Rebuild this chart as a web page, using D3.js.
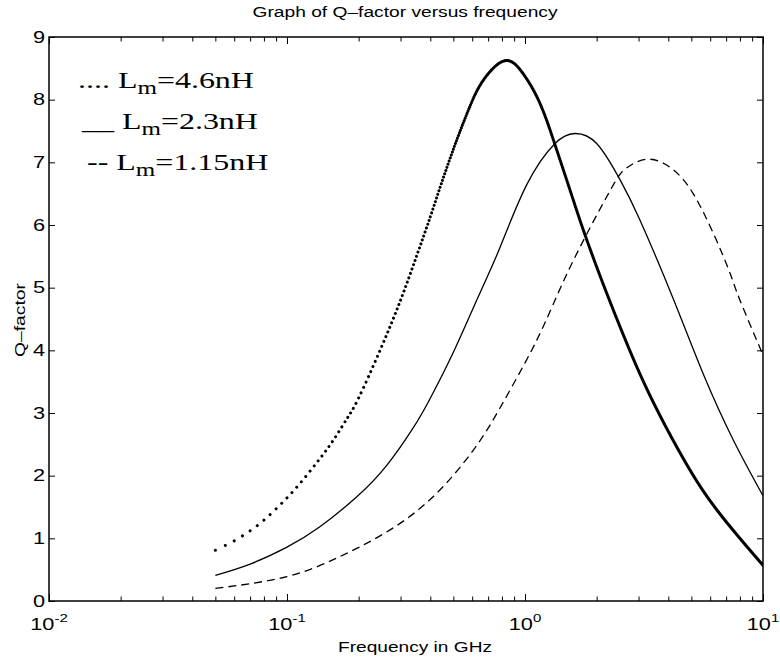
<!DOCTYPE html>
<html>
<head>
<meta charset="utf-8">
<script src="https://cdn.jsdelivr.net/npm/d3@7"></script>
<style>
  body { margin: 0; background: #fff; }
  svg { display: block; }
</style>
</head>
<body>
<svg id="chart" width="780" height="660"></svg>
<script>
// Q-factor readings (frequency in GHz) for three inductor values
const freqA = [0.05, 0.06, 0.07, 0.08, 0.095, 0.113, 0.138, 0.16, 0.18, 0.2, 0.246, 0.3, 0.35, 0.4, 0.447, 0.516, 0.588, 0.668, 0.82, 0.98, 1.156, 1.337, 1.545, 1.758, 2.1, 2.6, 3.35, 4.63, 6.38, 10];
const qA    = [0.81, 0.96, 1.12, 1.29, 1.56, 1.87, 2.28, 2.62, 2.93, 3.24, 4.0, 4.8, 5.5, 6.13, 6.68, 7.35, 7.9, 8.31, 8.62, 8.42, 7.94, 7.28, 6.56, 5.92, 5.12, 4.23, 3.28, 2.27, 1.46, 0.57];

const freqB = [0.05, 0.07, 0.1, 0.137, 0.196, 0.262, 0.34, 0.398, 0.5, 0.63, 0.785, 1.016, 1.337, 1.62, 2.0, 2.51, 3.04, 4.2, 5.6, 7.5, 10];
const qB    = [0.41, 0.59, 0.86, 1.18, 1.66, 2.16, 2.77, 3.22, 3.97, 4.82, 5.64, 6.64, 7.3, 7.46, 7.3, 6.72, 6.08, 4.82, 3.63, 2.57, 1.68];

const freqC = [0.05, 0.1, 0.167, 0.262, 0.41, 0.61, 0.785, 1.0, 1.2, 1.45, 1.82, 2.35, 2.67, 3.3, 4.2, 5.09, 6.18, 7.27, 8.0, 9.66, 10];
const qC    = [0.2, 0.39, 0.71, 1.1, 1.66, 2.42, 3.08, 3.8, 4.4, 5.1, 5.86, 6.64, 6.91, 7.05, 6.88, 6.5, 5.87, 5.23, 4.8, 4.06, 3.92];

// Axis ticks
const yTicks = [0, 1, 2, 3, 4, 5, 6, 7, 8, 9];
const xDecades = [0.01, 0.1, 1, 10];
const xExponents = ["-2", "-1", "0", "1"];

// Legend entries
const legendKeys = ["....", "__", "--"];
const legendValues = ["=4.6nH", "=2.3nH", "=1.15nH"];

const titleText = "Graph of Q\u2013factor versus frequency";
const xLabelText = "Frequency in GHz";
const yLabelText = "Q\u2013factor";

// frequency sweep step of the 4.6nH run, drawn one dot per sample
const SWEEP_STEP = 0.005;

const svg = d3.select("#chart");
const W = 780, H = 660;
const plot = { left: 49, right: 763, top: 37, bottom: 601 };

const x = d3.scaleLog().domain([0.01, 10]).range([plot.left, plot.right]);
const y = d3.scaleLinear().domain([0, 9]).range([plot.bottom, plot.top]);

const SANS = "'Liberation Sans', Arial, Helvetica, sans-serif";
const SERIF = "'Liberation Serif', 'Times New Roman', serif";
const SX = 1.36; // wide lettering used throughout the figure

svg.append("rect").attr("width", W).attr("height", H).attr("fill", "#fff");

svg.append("defs").append("clipPath").attr("id", "plotClip")
  .append("rect")
  .attr("x", plot.left).attr("y", plot.top)
  .attr("width", plot.right - plot.left).attr("height", plot.bottom - plot.top);

// ---- ticks (inward, on all four sides) ----
const minorTicks = [];
xDecades.slice(0, -1).forEach(d => { for (let k = 2; k <= 9; k++) minorTicks.push(d * k); });

function styleAxis(g) {
  g.select(".domain").remove();
  g.selectAll(".tick line").attr("stroke", "#000").attr("stroke-width", 1);
}

svg.append("g").attr("transform", `translate(0,${plot.bottom})`)
  .call(d3.axisBottom(x).tickValues(xDecades).tickSize(-7).tickFormat(""))
  .call(styleAxis);
svg.append("g").attr("transform", `translate(0,${plot.bottom})`)
  .call(d3.axisBottom(x).tickValues(minorTicks).tickSize(-4.5).tickFormat(""))
  .call(styleAxis);
svg.append("g").attr("transform", `translate(0,${plot.top})`)
  .call(d3.axisTop(x).tickValues(xDecades).tickSize(-7).tickFormat(""))
  .call(styleAxis);
svg.append("g").attr("transform", `translate(0,${plot.top})`)
  .call(d3.axisTop(x).tickValues(minorTicks).tickSize(-4.5).tickFormat(""))
  .call(styleAxis);
svg.append("g").attr("transform", `translate(${plot.left},0)`)
  .call(d3.axisLeft(y).tickValues(yTicks).tickSize(-6).tickFormat(""))
  .call(styleAxis);
svg.append("g").attr("transform", `translate(${plot.right},0)`)
  .call(d3.axisRight(y).tickValues(yTicks).tickSize(-6).tickFormat(""))
  .call(styleAxis);

// ---- frame ----
svg.append("rect")
  .attr("x", plot.left).attr("y", plot.top)
  .attr("width", plot.right - plot.left).attr("height", plot.bottom - plot.top)
  .attr("fill", "none").attr("stroke", "#000").attr("stroke-width", 1.5);

// ---- tick labels ----
yTicks.forEach(v => {
  svg.append("g")
    .attr("transform", `translate(${plot.left - 4},${y(v)}) scale(${SX},1)`)
    .append("text")
    .attr("text-anchor", "end").attr("dy", "0.36em")
    .attr("font-family", SANS).attr("font-size", 16).attr("fill", "#000")
    .text(v);
});

xDecades.forEach((d, i) => {
  const t = svg.append("g")
    .attr("transform", `translate(${x(d)},630) scale(${SX},1)`)
    .append("text")
    .attr("text-anchor", "middle")
    .attr("font-family", SANS).attr("font-size", 16).attr("fill", "#000");
  t.append("tspan").text("10");
  t.append("tspan").attr("font-size", 11).attr("dy", -8).text(xExponents[i]);
});

// ---- titles ----
svg.append("text")
  .attr("x", 405).attr("y", 17)
  .attr("text-anchor", "middle")
  .attr("font-family", SANS).attr("font-size", 14).attr("fill", "#000")
  .attr("textLength", 305).attr("lengthAdjust", "spacingAndGlyphs")
  .text(titleText);

svg.append("text")
  .attr("x", 415).attr("y", 652)
  .attr("text-anchor", "middle")
  .attr("font-family", SANS).attr("font-size", 14).attr("fill", "#000")
  .attr("textLength", 154).attr("lengthAdjust", "spacingAndGlyphs")
  .text(xLabelText);

svg.append("g")
  .attr("transform", "translate(25,320) rotate(-90)")
  .append("text")
  .attr("text-anchor", "middle")
  .attr("font-family", SANS).attr("font-size", 14).attr("fill", "#000")
  .attr("textLength", 74).attr("lengthAdjust", "spacingAndGlyphs")
  .text(yLabelText);

// ---- curves ----
const line = d3.line()
  .x(d => x(d[0]))
  .y(d => y(d[1]))
  .curve(d3.curveNatural);

const curves = svg.append("g").attr("clip-path", "url(#plotClip)");

// 2.3nH: thin solid
curves.append("path")
  .attr("d", line(d3.zip(freqB, qB)))
  .attr("fill", "none").attr("stroke", "#000").attr("stroke-width", 1.3);

// 1.15nH: dashed
curves.append("path")
  .attr("d", line(d3.zip(freqC, qC)))
  .attr("fill", "none").attr("stroke", "#000").attr("stroke-width", 1.3)
  .attr("stroke-dasharray", "8,5");

// 4.6nH: one dot per sweep sample (samples bunch up into a solid line at high frequency)
const pathA = curves.append("path")
  .attr("d", line(d3.zip(freqA, qA)))
  .attr("fill", "none").attr("stroke", "#000").attr("stroke-width", 3)
  .attr("stroke-linecap", "round");

(function dotPattern() {
  const node = pathA.node();
  const total = node.getTotalLength();
  const N = 4000;
  const lens = [], xs = [];
  for (let i = 0; i <= N; i++) {
    const l = total * i / N;
    lens.push(l);
    xs.push(node.getPointAtLength(l).x);
  }
  // running max keeps the lookup monotone
  for (let i = 1; i <= N; i++) xs[i] = Math.max(xs[i], xs[i - 1]);
  const bis = d3.bisector(v => v).left;
  function lenAtX(px) {
    const j = bis(xs, px);
    if (j <= 0) return 0;
    if (j > N) return total;
    const t = (px - xs[j - 1]) / (xs[j] - xs[j - 1] || 1);
    return lens[j - 1] + t * (lens[j] - lens[j - 1]);
  }
  const f0 = freqA[0], f1 = freqA[freqA.length - 1];
  const marks = [];
  for (let k = 0; ; k++) {
    const f = f0 + k * SWEEP_STEP;
    if (f > f1 + 1e-9) break;
    marks.push(lenAtX(x(f)));
  }
  const dash = [];
  for (let k = 0; k < marks.length - 1; k++) {
    const gap = Math.max(marks[k + 1] - marks[k] - 0.01, 0.001);
    dash.push(0.01, gap);
  }
  dash.push(0.01, total + 10);
  pathA.attr("stroke-dasharray", dash.map(v => v.toFixed(3)).join(","));
})();

// ---- legend ----
const legendPos = [[78, 88], [82, 129], [87, 170]];
legendKeys.forEach((k, i) => {
  const t = svg.append("g")
    .attr("transform", `translate(${legendPos[i][0]},${legendPos[i][1]}) scale(1.39,1)`)
    .append("text")
    .attr("font-family", SERIF).attr("font-size", 23).attr("fill", "#000")
    .attr("xml:space", "preserve");
  t.append("tspan").text(k + " L");
  t.append("tspan").attr("font-size", 18).attr("dy", 6).text("m");
  t.append("tspan").attr("font-size", 23).attr("dy", -6).text(legendValues[i]);
});
</script>
</body>
</html>
